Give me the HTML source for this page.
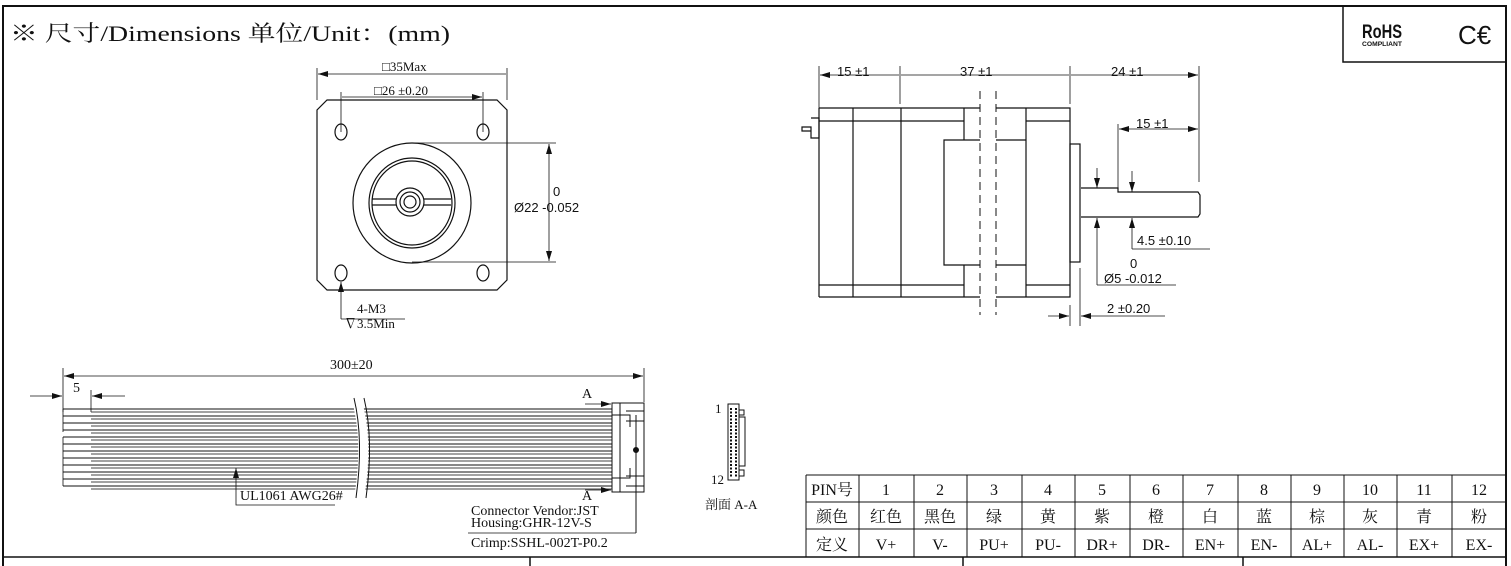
<!DOCTYPE html>
<html><head><meta charset="utf-8"><style>
html,body{margin:0;padding:0;background:#fff}
svg{display:block}
text{font-family:"Liberation Serif","Noto Serif CJK SC",serif;fill:#111}
.s{font-family:"Liberation Sans","Noto Sans CJK SC",sans-serif}
</style></head><body>
<svg width="1511" height="566" viewBox="0 0 1511 566" xmlns="http://www.w3.org/2000/svg">
<defs>
<marker id="a" viewBox="0 0 10 6" refX="10" refY="3" markerWidth="10" markerHeight="6" orient="auto-start-reverse" markerUnits="userSpaceOnUse"><path d="M0,0L10,3L0,6z" fill="#111"/></marker>
</defs>
<g fill="none" stroke="#111" stroke-width="1.2">
<path d="M3,566V6H1506V566" stroke-width="2"/>
<path d="M1343,6V62H1506" stroke-width="1.5"/>
<path d="M3,557H1506M530,557V566M963,557V566M1243,557V566" stroke-width="1.5"/>
<!-- front view -->
<path d="M327,100H497L507,110V280L497,290H327L317,280V110Z"/>
<ellipse cx="341" cy="132" rx="6" ry="8"/><ellipse cx="483" cy="132" rx="6" ry="8"/>
<ellipse cx="341" cy="273" rx="6" ry="8"/><ellipse cx="483" cy="273" rx="6" ry="8"/>
<ellipse cx="412" cy="203" rx="59" ry="60"/>
<ellipse cx="412" cy="203" rx="43" ry="45"/><ellipse cx="412" cy="203" rx="40" ry="42"/>
<circle cx="410" cy="202" r="14"/><circle cx="410" cy="202" r="10"/><circle cx="410" cy="202" r="6"/>
<path d="M372,199H396M372,205H396M424,199H451M424,205H451"/>
<path d="M317,68V100M507,68V100M341,92V132M483,92V132" stroke-width="0.8"/>
<path d="M318,74H506M342,97H482" marker-start="url(#a)" marker-end="url(#a)" stroke-width="0.8"/>
<path d="M412,143H556M412,262H556" stroke-width="0.8"/>
<path d="M549,144V261" marker-start="url(#a)" marker-end="url(#a)" stroke-width="0.8"/>
<path d="M341,319V282" marker-end="url(#a)" stroke-width="0.8"/>
<path d="M341,319H405" stroke-width="0.8"/>
<!-- side view -->
<path d="M819,108H980M996,108H1070V297H996M980,297H819M819,108V297"/>
<path d="M853,108V297M901,108V297M964,108V140M964,265V297M1026,108V297"/>
<path d="M819,121H964M1026,121H1070M819,285H964M1026,285H1070"/>
<path d="M980,140H944V265H980M996,140H1026M996,265H1026"/>
<path d="M980,91V315M996,91V315" stroke-dasharray="8,5" stroke-width="1"/>
<rect x="1070" y="144" width="10" height="118"/>
<path d="M1081,188H1118V192H1198L1200,195V214L1198,217H1081"/>
<path d="M811,118H819V138H811V127H802V131H811"/>
<path d="M819,66V108M900,66V104M1070,66V104M1199,66V182" stroke-width="0.8"/>
<path d="M820,75H899M901,75H1069M1071,75H1198" marker-start="url(#a)" marker-end="url(#a)" stroke-width="0.8"/>
<path d="M1118,124V190" stroke-width="0.8"/>
<path d="M1119,129H1198" marker-start="url(#a)" marker-end="url(#a)" stroke-width="0.8"/>
<path d="M1097,168V188" marker-end="url(#a)" stroke-width="0.8"/>
<path d="M1132,171V192" marker-end="url(#a)" stroke-width="0.8"/>
<path d="M1097,285V218" marker-end="url(#a)" stroke-width="0.8"/>
<path d="M1132,249V218" marker-end="url(#a)" stroke-width="0.8"/>
<path d="M1097,285H1176M1132,249H1210" stroke-width="0.8"/>
<path d="M1070,305V326M1080,268V326" stroke-width="0.8"/>
<path d="M1048,316H1069" marker-end="url(#a)" stroke-width="0.8"/>
<path d="M1165,316H1081" marker-end="url(#a)" stroke-width="0.8"/>
<!-- cable -->
<path d="M63,368V412M644,368V402" stroke-width="0.8"/>
<path d="M64,376H643" marker-start="url(#a)" marker-end="url(#a)" stroke-width="0.8"/>
<path d="M30,396H62" marker-end="url(#a)" stroke-width="0.8"/>
<path d="M125,396H92" marker-end="url(#a)" stroke-width="0.8"/>
<path d="M91,390V412" stroke-width="0.8"/>
</g>
<g stroke="#111" stroke-width="1" fill="none">
<path d="M63,409H612M63,416H612M63,423H612M63,430H612M63,437H612M63,444H612M63,451H612M63,458H612M63,465H612M63,472H612M63,479H612M63,486H612"/>
<path d="M91,412H612M91,419H612M91,426H612M91,433H612M91,440H612M91,447H612M91,454H612M91,461H612M91,468H612M91,475H612M91,482H612M91,489H612" stroke="#444"/>
<path d="M63,409V432M63,437V486" stroke-width="0.8"/>
</g>
<path d="M351,398Q364,440 354,498L364,498Q374,440 361,398Z" fill="#fff"/>
<path d="M354,398Q364,440 356,498M364,398Q374,440 366,498" stroke="#111" fill="none"/>
<g fill="none" stroke="#111" stroke-width="1">
<rect x="612" y="403" width="32" height="89"/>
<path d="M620,403V492M612,415H630V427M612,478H630V468M626,411H644M626,421H644M626,476H644M626,486H644M636,415V533"/>
<circle cx="636" cy="450" r="2.5" fill="#111"/>
<path d="M585,404H611" marker-end="url(#a)" stroke-width="0.8"/>
<path d="M585,490H611" marker-end="url(#a)" stroke-width="0.8"/>
<path d="M236,468V505H335" marker-start="url(#a)" stroke-width="0.8"/>
<path d="M468,533H636" stroke-width="0.8"/>
<rect x="728" y="404" width="11" height="76"/>
<path d="M739,417H745V466H739M739,410H744V415H739M739,470H744V476H739"/>
<path d="M731,408V477M736,408V477" stroke-dasharray="2,1.5" stroke-width="2"/>
</g>
<text x="10" y="41" font-size="22" textLength="440" lengthAdjust="spacingAndGlyphs">※ 尺寸/Dimensions  单位/Unit：(mm)</text>
<text x="382" y="71" font-size="13">□35Max</text>
<text x="374" y="95" font-size="13">□26 ±0.20</text>
<text x="553" y="196" font-size="13" class="s">0</text>
<text x="514" y="212" font-size="13" class="s">Ø22 -0.052</text>
<text x="357" y="313" font-size="13">4-M3</text>
<text x="344" y="328" font-size="13">∇3.5Min</text>
<text x="837" y="76" font-size="13" class="s">15 ±1</text>
<text x="960" y="76" font-size="13" class="s">37 ±1</text>
<text x="1111" y="76" font-size="13" class="s">24 ±1</text>
<text x="1136" y="128" font-size="13" class="s">15 ±1</text>
<text x="1137" y="245" font-size="13" class="s">4.5 ±0.10</text>
<text x="1130" y="268" font-size="13" class="s">0</text>
<text x="1104" y="283" font-size="13" class="s">Ø5 -0.012</text>
<text x="1107" y="313" font-size="13" class="s">2 ±0.20</text>
<text x="330" y="369" font-size="14">300±20</text>
<text x="73" y="392" font-size="14">5</text>
<text x="582" y="398" font-size="14">A</text>
<text x="582" y="500" font-size="14">A</text>
<text x="240" y="500" font-size="14">UL1061 AWG26#</text>
<text x="471" y="515" font-size="14">Connector Vendor:JST</text>
<text x="471" y="527" font-size="14">Housing:GHR-12V-S</text>
<text x="471" y="547" font-size="14">Crimp:SSHL-002T-P0.2</text>
<text x="715" y="413" font-size="13">1</text>
<text x="711" y="484" font-size="13">12</text>
<text x="705" y="509" font-size="13">剖面 A-A</text>
<text x="1362" y="38" font-size="19" font-weight="bold" class="s" textLength="40" lengthAdjust="spacingAndGlyphs">RoHS</text>
<text x="1362" y="46" font-size="6" font-weight="bold" class="s" textLength="40" lengthAdjust="spacingAndGlyphs">COMPLIANT</text>
<text x="1458" y="44" font-size="26" class="s">C€</text>
<g fill="none" stroke="#111" stroke-width="1">
<path d="M806,475H1506M806,502H1506M806,529H1506M806,475V557"/>
<path d="M859,475V557M914,475V557M967,475V557M1022,475V557M1075,475V557M1130,475V557M1183,475V557M1238,475V557M1291,475V557M1344,475V557M1397,475V557M1452,475V557"/>
</g>
<g font-size="16" text-anchor="middle">
<text x="832" y="495">PIN号</text><text x="832" y="522">颜色</text><text x="832" y="550">定义</text>
<text x="886" y="495">1</text><text x="940" y="495">2</text><text x="994" y="495">3</text><text x="1048" y="495">4</text><text x="1102" y="495">5</text><text x="1156" y="495">6</text><text x="1210" y="495">7</text><text x="1264" y="495">8</text><text x="1317" y="495">9</text><text x="1370" y="495">10</text><text x="1424" y="495">11</text><text x="1479" y="495">12</text>
<text x="886" y="522">红色</text><text x="940" y="522">黑色</text><text x="994" y="522">绿</text><text x="1048" y="522">黄</text><text x="1102" y="522">紫</text><text x="1156" y="522">橙</text><text x="1210" y="522">白</text><text x="1264" y="522">蓝</text><text x="1317" y="522">棕</text><text x="1370" y="522">灰</text><text x="1424" y="522">青</text><text x="1479" y="522">粉</text>
<text x="886" y="550">V+</text><text x="940" y="550">V-</text><text x="994" y="550">PU+</text><text x="1048" y="550">PU-</text><text x="1102" y="550">DR+</text><text x="1156" y="550">DR-</text><text x="1210" y="550">EN+</text><text x="1264" y="550">EN-</text><text x="1317" y="550">AL+</text><text x="1370" y="550">AL-</text><text x="1424" y="550">EX+</text><text x="1479" y="550">EX-</text>
</g>
</svg>
</body></html>
